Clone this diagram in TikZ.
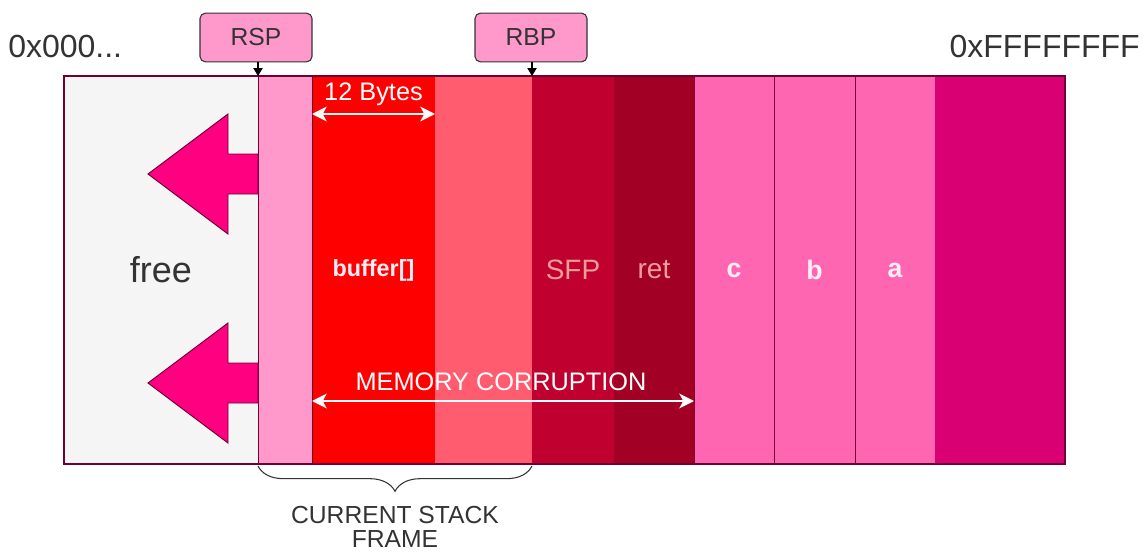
\documentclass[tikz,border=0pt]{standalone}
\usepackage{fontspec}
\setmainfont{Liberation Sans}
\usetikzlibrary{arrows.meta,decorations.pathreplacing}
\definecolor{cfree}{HTML}{F5F5F5}
\definecolor{cpink}{HTML}{FF99CC}
\definecolor{cbuf}{HTML}{FF0000}
\definecolor{cpad}{HTML}{FF5C70}
\definecolor{csfp}{HTML}{C0002E}
\definecolor{cret}{HTML}{A20025}
\definecolor{carg}{HTML}{FF66B2}
\definecolor{clast}{HTML}{D80073}
\definecolor{cbig}{HTML}{FF0080}
\definecolor{cline}{HTML}{6F0036}
\definecolor{ctext}{HTML}{333333}
\definecolor{cdim}{HTML}{F19C99}
\definecolor{cwhite}{HTML}{FFEEF6}
\begin{document}
\begin{tikzpicture}[x=0.75pt,y=-0.75pt,
  col/.style={minimum height=291pt, inner sep=0pt, outer sep=0pt, draw=cline, line width=0.6pt},
  nob/.style={draw=none},
  reg/.style={draw=ctext, line width=0.8pt, fill=cpink, rounded corners=4pt, minimum width=84pt, minimum height=36.5pt, inner sep=0pt, text=ctext, font=\fontsize{18.5}{20}\selectfont},
  addr/.style={text=ctext, font=\fontsize{24}{28}\selectfont, inner sep=0pt},
  wlab/.style={text=white, font=\fontsize{19}{22}\selectfont, inner sep=0pt},
  dbl/.style={white, line width=1.7pt, {Stealth[length=11pt,width=11pt,inset=3pt]}-{Stealth[length=11pt,width=11pt,inset=3pt]}},
  ptr/.style={black, line width=0.8pt, -{Triangle[length=6pt,width=7pt]}},
  bigarrow/.style={fill=cbig, draw=cline, line width=0.7pt, line join=miter}
]
\useasboundingbox (0,0) rectangle (1143,553);

% columns
\node[col, fill=cfree, minimum width=194*0.75pt, text=ctext, font=\fontsize{27}{30}\selectfont] (free) at (161,270) {free};
\node[col, fill=cpink, minimum width=54*0.75pt] (rspcol) at (285,270) {};
\node[col, fill=cbuf, minimum width=123*0.75pt, draw=cret!70!black, text=cwhite, font=\bfseries\fontsize{17.5}{20}\selectfont] (buf) at (373.5,270) {buffer[]};
\node[col, nob, fill=cpad, minimum width=97*0.75pt] (pad) at (483.5,270) {};
\node[col, nob, fill=csfp, minimum width=82*0.75pt, text=cdim, font=\fontsize{21}{24}\selectfont] (sfp) at (573,270) {SFP};
\node[col, nob, fill=cret, minimum width=80*0.75pt, text=cdim, font=\fontsize{21}{24}\selectfont] (ret) at (654,270) {ret};
\node[col, fill=carg, minimum width=80*0.75pt, text=cwhite, font=\bfseries\fontsize{20}{24}\selectfont] (c) at (734,270) {c};
\node[col, fill=carg, minimum width=81*0.75pt, text=cwhite, font=\bfseries\fontsize{20}{24}\selectfont] (b) at (814.5,270) {b};
\node[col, fill=carg, minimum width=80*0.75pt, text=cwhite, font=\bfseries\fontsize{20}{24}\selectfont] (a) at (895,270) {a};
\node[col, nob, fill=clast, minimum width=130*0.75pt] (last) at (1000,270) {};
\draw[cline, line width=1.2pt] (free.north west) rectangle (last.south east);

% big arrows
\draw[bigarrow] (258,154) -- (228,154) -- (228,114) -- (148,174) -- (228,234) -- (228,194) -- (258,194) -- cycle;
\draw[bigarrow] (258,363) -- (228,363) -- (228,323) -- (148,383) -- (228,443) -- (228,403) -- (258,403) -- cycle;

% address labels
\node[addr, anchor=west] (lo) at (8,46) {0x000...};
\node[addr, anchor=east] (hi) at (1140,46) {0xFFFFFFFF};

% registers
\node[reg] (rsp) at (256,37.5) {RSP};
\node[reg] (rbp) at (531,37.5) {RBP};
\draw[ptr] (rspcol.north west |- rsp.south) -- (rspcol.north west);
\draw[ptr] (sfp.north west |- rbp.south) -- (sfp.north west);

% 12 bytes
\node[wlab] (bytes) at (373.5,94) {12 Bytes};
\coordinate (by) at (0,114);
\draw[dbl] (buf.west |- by) -- (buf.east |- by);

% memory corruption
\node[wlab] (mem) at (501,382) {MEMORY CORRUPTION};
\coordinate (my) at (0,401);
\draw[dbl] (buf.west |- my) -- (ret.east |- my);

% brace
\draw[ctext, line width=0.8pt, decorate, decoration={brace, mirror, amplitude=19pt, aspect=0.5}]
  ([yshift=-1.5pt]rspcol.south west) -- ([yshift=-1.5pt]pad.south east);
\node[text=ctext, align=center, font=\fontsize{18.5}{18}\selectfont, inner sep=0pt] (frame) at (395,527) {CURRENT STACK\\FRAME};
\end{tikzpicture}
\end{document}
